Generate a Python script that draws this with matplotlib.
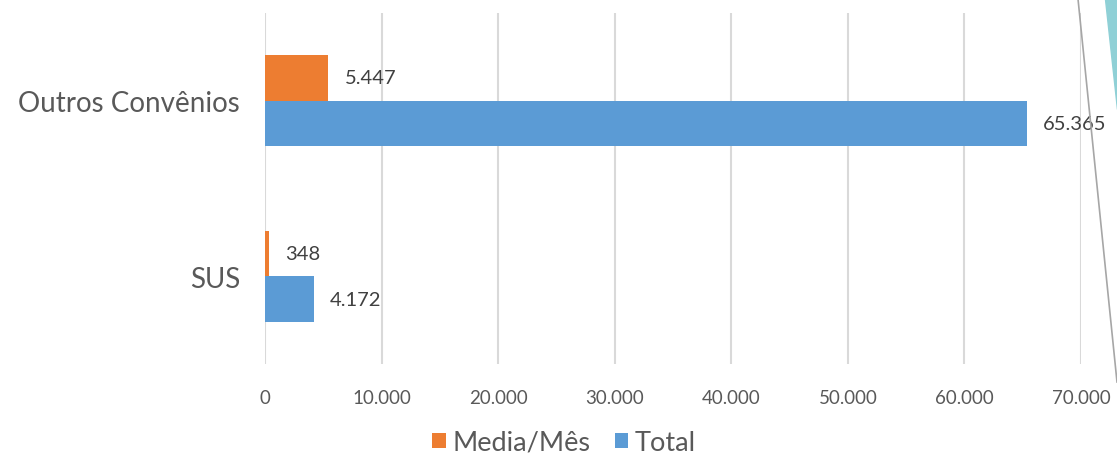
import matplotlib.pyplot as plt
import numpy as np
from matplotlib.lines import Line2D
from matplotlib.patches import Polygon

categories = ['SUS', 'Outros Convênios']
media_mes = [348, 5447]
total = [4172, 65365]
x_ticks = np.arange(0, 70001, 10000)


def fmt(v):
    # thousands with a dot, as in pt-BR
    return f'{v:,}'.replace(',', '.')


fig = plt.figure(figsize=(11.17, 4.6), dpi=100)
ax = fig.add_axes([0.2372, 0.2065, 0.7306, 0.7631])

y = np.arange(len(categories))
h = 0.26
orange = '#ED7D31'
blue = '#5B9BD5'
ax.barh(y + h / 2, media_mes, h, color=orange, label='Media/Mês', zorder=3)
ax.barh(y - h / 2, total, h, color=blue, label='Total', zorder=3)

for yi, v in zip(y, media_mes):
    ax.text(v + 1400, yi + h / 2, fmt(v), va='center', ha='left',
            fontsize=14.5, color='#404040', family='Lato')
for yi, v in zip(y, total):
    ax.text(v + 1400, yi - h / 2, fmt(v), va='center', ha='left',
            fontsize=14.5, color='#404040', family='Lato')

ax.set_xlim(0, 70000)
ax.set_ylim(-0.5, 1.5)
ax.set_xticks(x_ticks, [fmt(t) for t in x_ticks])
ax.set_yticks(y, categories)
ax.tick_params(axis='x', length=0, pad=18, labelsize=13.5, labelcolor='#595959')
ax.tick_params(axis='y', length=0, pad=18, labelsize=20, labelcolor='#595959')
for lbl in ax.get_xticklabels():
    lbl.set_family('Lato')
for lbl in ax.get_yticklabels():
    lbl.set_family('Lato')
ax.grid(axis='x', color='#D9D9D9', linewidth=1.5, zorder=0)
ax.spines[:].set_visible(False)

leg = fig.legend(loc='center', bbox_to_anchor=(0.505, 0.036), ncols=2,
                 frameon=False, handlelength=0.5, handleheight=0.5,
                 handletextpad=0.25, columnspacing=0.9,
                 prop={'family': 'Lato', 'size': 19.5})
for t in leg.get_texts():
    t.set_color('#595959')

# slide decoration at the right edge
fig.add_artist(Line2D([1078 / 1117, 1.0], [1.0, 1 - 383 / 460],
                      color='#A6A6A6', linewidth=1.2))
fig.add_artist(Polygon([[1105 / 1117, 1.0], [1.0, 1.0], [1.0, 1 - 110 / 460]],
                       closed=True, color='#8FD0D6', transform=fig.transFigure))

fig.savefig('out.png')
